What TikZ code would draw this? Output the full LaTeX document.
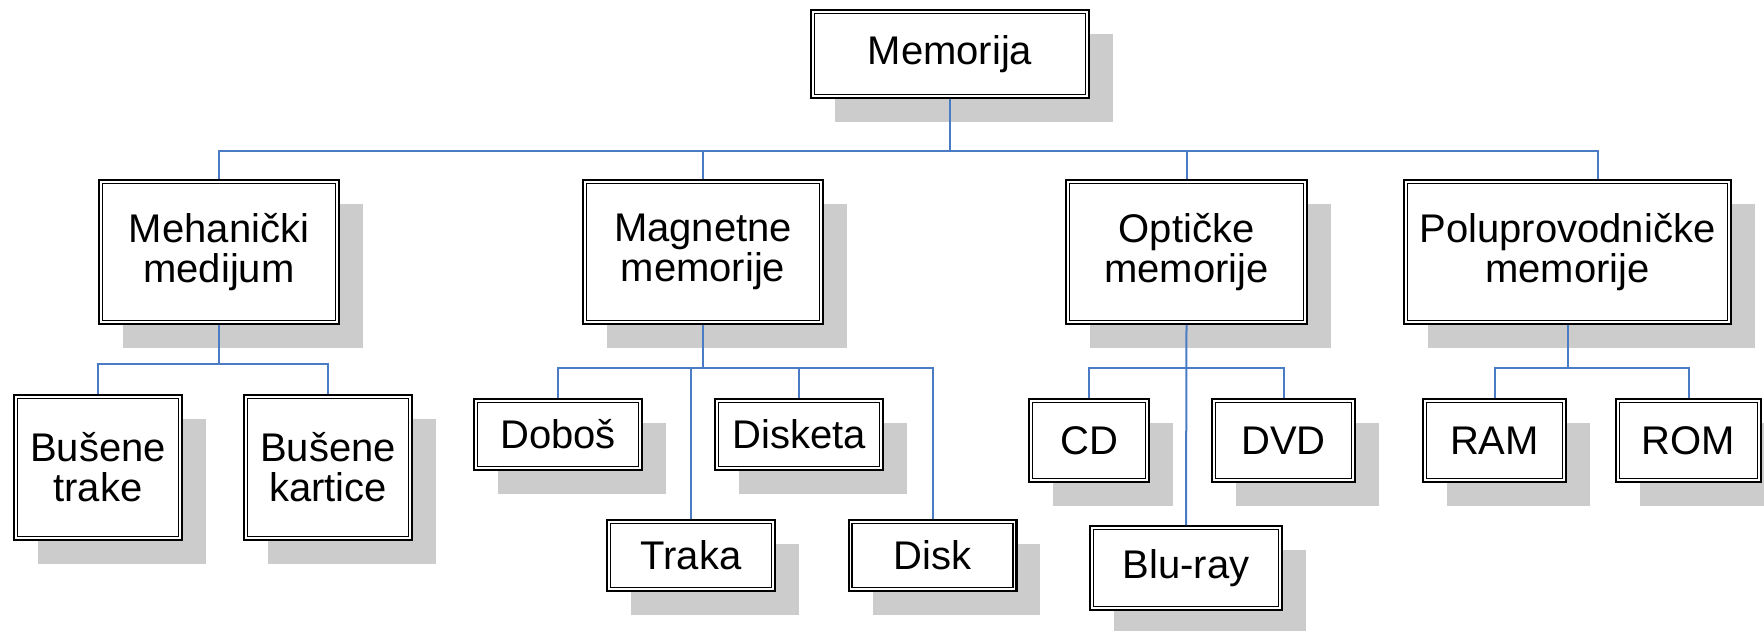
\documentclass[tikz,border=0pt]{standalone}
\usepackage{fontspec}
\setmainfont{Liberation Sans}
\usetikzlibrary{shadows}
\definecolor{conncol}{HTML}{4A7CC6}
\definecolor{shadcol}{HTML}{CCCCCC}
\tikzset{
  box/.style={draw=black, line width=2.2pt, fill=white, inner sep=0pt, align=center,
    font=\fontsize{40}{40}\selectfont,
    drop shadow={shadow xshift=24pt, shadow yshift=-24pt, fill=shadcol, opacity=1}},
  sz/.style 2 args={minimum width=#1pt-2.2pt, minimum height=#2pt-2.2pt},
  innerline/.style={draw=black, line width=1.5pt},
  conn/.style={draw=conncol, line width=2pt}
}
\begin{document}
\begin{tikzpicture}[x=1pt,y=-1pt]
\useasboundingbox (0,0) rectangle (1764,630);
% level 0
\node[box, sz={280}{90}] (mem) at (950,54) {Memorija};
% level 1
\node[box, sz={242}{146}] (meh) at (219,252) {Mehanički\\medijum};
\node[box, sz={242}{146}] (mag) at (703,252) {Magnetne\\memorije};
\node[box, sz={243}{146}] (opt) at (1186.5,252) {Optičke\\memorije};
\node[box, sz={329}{146}] (pol) at (1567.5,252) {Poluprovodničke\\memorije};
% level 2
\node[box, sz={170}{147}] (bt) at (98,467.5) {Bušene\\trake};
\node[box, sz={170}{147}] (bk) at (328,467.5) {Bušene\\kartice};
\node[box, sz={170}{73}] (dob) at (558,434.5) {Doboš};
\node[box, sz={170}{73}] (dis) at (799,434.5) {Disketa};
\node[box, sz={170}{73}] (tra) at (691,555.5) {Traka};
\node[box, sz={170}{73}] (dsk) at (932.5,555.5) {Disk};
\node[box, sz={122}{85}] (cd) at (1089,440.5) {CD};
\node[box, sz={145}{85}] (dvd) at (1283.5,440.5) {DVD};
\node[box, sz={194}{86}] (blu) at (1186,568) {Blu-ray};
\node[box, sz={145}{85}] (ram) at (1494.5,440.5) {RAM};
\node[box, sz={147}{85}] (rom) at (1688.5,440.5) {ROM};
% inner borders
\foreach \n in {mem,meh,mag,opt,pol,bt,bk,dob,dis,tra,dsk,cd,dvd,blu,ram,rom}
  \draw[innerline] ([shift={(4.6pt,-4.6pt)}]\n.north west) rectangle ([shift={(-4.6pt,4.6pt)}]\n.south east);
% junctions
\coordinate (j0) at (950,151);
\coordinate (pj) at (1598,151);
\coordinate (j1) at (219,364);
\coordinate (j2) at (703,368);
\coordinate (j3) at (1186.5,368);
\coordinate (j4) at (1567.5,368);
% connectors level 0-1
\draw[conn] (mem.south) -- (j0);
\draw[conn] (meh.north) |- (pj) -- (pj |- pol.north);
\draw[conn] (mag.north) -- (mag.north |- j0);
\draw[conn] (opt.north) -- (opt.north |- j0);
% Mehanicki
\draw[conn] (meh.south) -- (j1);
\draw[conn] (bt.north) |- (j1) -| (bk.north);
% Magnetne
\draw[conn] (mag.south) -- (j2);
\draw[conn] (dob.north) |- (j2) -| (dsk.north);
\draw[conn] (dis.north) -- (dis.north |- j2);
\draw[conn] (tra.north) -- (tra.north |- j2);
% Opticke
\draw[conn] (opt.south) -- (blu.north);
\draw[conn] (cd.north) |- (j3) -| (dvd.north);
% Poluprovodnicke
\draw[conn] (pol.south) -- (j4);
\draw[conn] (ram.north) |- (j4) -| (rom.north);
\end{tikzpicture}
\end{document}
